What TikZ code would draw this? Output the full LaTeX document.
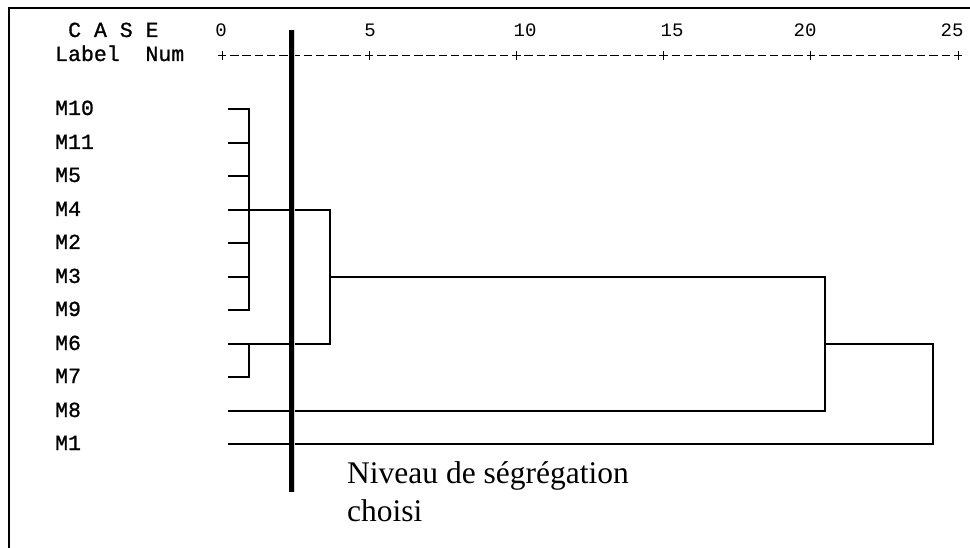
\documentclass[tikz,border=0pt]{standalone}
\usepackage{fontspec}
\newfontfamily\monof{Liberation Mono}
\newfontfamily\monob[FakeBold=1]{Liberation Mono}
\newfontfamily\serf{Liberation Serif}
\begin{document}
\begin{tikzpicture}[x=1pt,y=-1pt,
  mono/.style={font=\monob\fontsize{21.5}{24}\selectfont,inner sep=0pt,anchor=base west},
  numlbl/.style={font=\monof\fontsize{19}{22}\selectfont,inner sep=0pt,anchor=base},
  leaflbl/.style={mono},
  caption/.style={font=\serf\fontsize{31.5}{38}\selectfont,inner sep=0pt,anchor=base west},
  tree/.style={line width=1.1pt,line cap=rect},
  rulerdash/.style={line width=1pt,dash pattern=on 8.5pt off 3.767pt},
  tick/.style={line width=1pt},
  cut/.style={line width=5pt},
  frame/.style={line width=2pt}]
\useasboundingbox (0,0) rectangle (970,548);
% frame
\coordinate (fbl) at (9,548);
\coordinate (ftl) at (9,8);
\coordinate (ftr) at (970,8);
\draw[frame] (fbl) -- (ftl) -- (ftr);
% header
\node[mono] (case) at (68,37) {C A S E};
\node[numlbl] (n0) at (221,37) {0};
\node[numlbl] (n5) at (370,37) {5};
\node[numlbl] (n10) at (525,37) {10};
\node[numlbl] (n15) at (672,37) {15};
\node[numlbl] (n20) at (805,37) {20};
\node[numlbl] (n25) at (952,37) {25};
\node[mono] (lab) at (55,61) {Label~~Num};
% ruler
\coordinate (rs) at (217.75,56);
\coordinate (re) at (962.3,56);
\draw[rulerdash] (rs) -- (re);
\foreach \i in {0,...,5}{
  \coordinate (t\i a) at (222+147.2*\i,51.5);
  \coordinate (t\i b) at (222+147.2*\i,60.5);
  \draw[tick] (t\i a) -- (t\i b);
}
% leaf labels
\foreach \n/\y in {M10/109,M11/143,M5/176,M4/210,M2/243,M3/277,M9/310,M6/344,M7/377,M8/411,M1/444}{
  \node[leaflbl] (lab\n) at (55,\y+6) {\n};
  \coordinate (s\n) at (229,\y);
}
% first-level joins
\foreach \n/\y in {M10/109,M11/143,M5/176,M2/243,M3/277,M9/310}{
  \coordinate (e\n) at (249,\y);
  \draw[tree] (s\n) -- (e\n);
}
\coordinate (jAt) at (249,109);
\coordinate (jAb) at (249,310);
\draw[tree] (jAt) -- (jAb);
\coordinate (jM4) at (330,210);
\coordinate (jM6) at (330,344);
\draw[tree] (sM4) -- (jM4) -- (jM6) -- (sM6);
\coordinate (eM7) at (249,377);
\coordinate (jB) at (249,344);
\draw[tree] (sM7) -- (eM7) -- (jB);
\coordinate (jAB) at (330,277);
\coordinate (jC1) at (825,277);
\coordinate (jC2) at (825,411);
\draw[tree] (jAB) -- (jC1) -- (jC2) -- (sM8);
\coordinate (jD0) at (825,344);
\coordinate (jD1) at (933,344);
\coordinate (jD2) at (933,444);
\draw[tree] (jD0) -- (jD1) -- (jD2) -- (sM1);
% cut level bar
\coordinate (bt) at (291,30);
\coordinate (bb) at (291,492);
\draw[gray!35,line width=1.5pt] ([xshift=3pt]bt) -- ([xshift=3pt]bb);
\draw[cut] (bt) -- (bb);
% caption
\node[caption] (cap1) at (347,483) {Niveau de ségrégation};
\node[caption] (cap2) at (347,521) {choisi};
\end{tikzpicture}
\end{document}
